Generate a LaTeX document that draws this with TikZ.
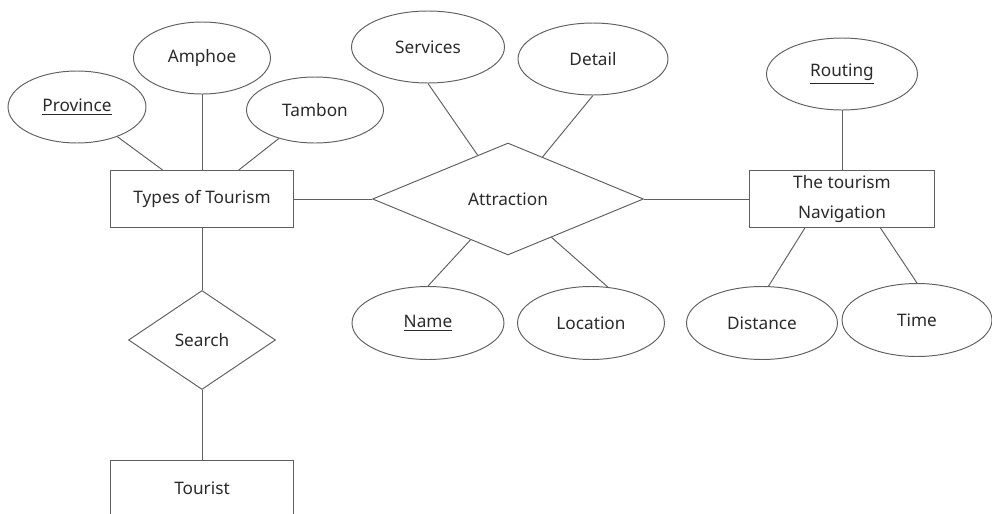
\documentclass[tikz,border=0pt]{standalone}
\usepackage{fontspec}
\setmainfont{Noto Sans}
\usetikzlibrary{shapes.geometric}
\definecolor{linegray}{HTML}{606060}
\definecolor{textgray}{HTML}{2A2A2A}
\begin{document}
\begin{tikzpicture}
[x=0.02cm,y=0.02cm,line width=0.55pt,draw=linegray,
 every node/.style={text=textgray,font=\fontsize{9.8}{11}\selectfont},
 attrib/.style={ellipse,draw=linegray,inner sep=0pt,minimum width=#1,minimum height=1.44cm},
 attrib/.default=3cm,
 entity/.style={rectangle,draw=linegray,minimum width=3.66cm,minimum height=1.14cm,inner sep=2pt},
 relation/.style={diamond,draw=linegray,inner sep=0pt}]

  \clip (0,0) rectangle (992,-514);

  % entities
  \node[entity] (types) at (202,-199) {Types of Tourism};
  \node[entity,minimum width=3.7cm,align=center,font=\fontsize{9.8}{17}\selectfont]
    (navigation) at (842,-199) {The tourism\\Navigation};
  \node[entity] (tourist) at (202,-488.5) {Tourist};

  % relations
  \node[relation,minimum width=5.42cm,minimum height=2.24cm] (attraction) at (508,-199) {Attraction};
  \node[relation,minimum width=2.94cm,minimum height=1.98cm] (search) at (202,-340) {Search};

  % attributes
  \node[attrib=2.76cm] (province) at (77,-107) {\underline{Province}};
  \node[attrib=2.74cm] (amphoe) at (202,-58) {Amphoe};
  \node[attrib=2.74cm,minimum height=1.32cm] (tambon) at (315,-110) {Tambon};
  \node[attrib=3.06cm] (services) at (428,-47) {Services};
  \node[attrib] (detail) at (593,-59) {Detail};
  \node[attrib=3.04cm,minimum height=1.46cm] (aname) at (428,-323) {\underline{Name}};
  \node[attrib=2.94cm,minimum height=1.46cm] (location) at (591,-323) {Location};
  \node[attrib=3.02cm] (routing) at (842,-74) {\underline{Routing}};
  \node[attrib=3.02cm,minimum height=1.46cm] (distance) at (762,-323) {Distance};
  \node[attrib,minimum height=1.46cm] (time) at (917,-320) {Time};

  \draw (province) -- (types);
  \draw (amphoe) -- (types);
  \draw (tambon) -- (types);
  \draw (types) -- (attraction);
  \draw (services.south) -- (attraction);
  \draw (detail.south) -- (attraction);
  \draw (aname.north) -- (attraction);
  \draw (location.65) -- (attraction);
  \draw (attraction) -- (navigation);
  \draw (routing) -- (navigation);
  \draw (navigation.-142) -- (distance.80);
  \draw (navigation.-37) -- (time.north);
  \draw (types) -- (search);
  \draw (search) -- (tourist);
\end{tikzpicture}
\end{document}
